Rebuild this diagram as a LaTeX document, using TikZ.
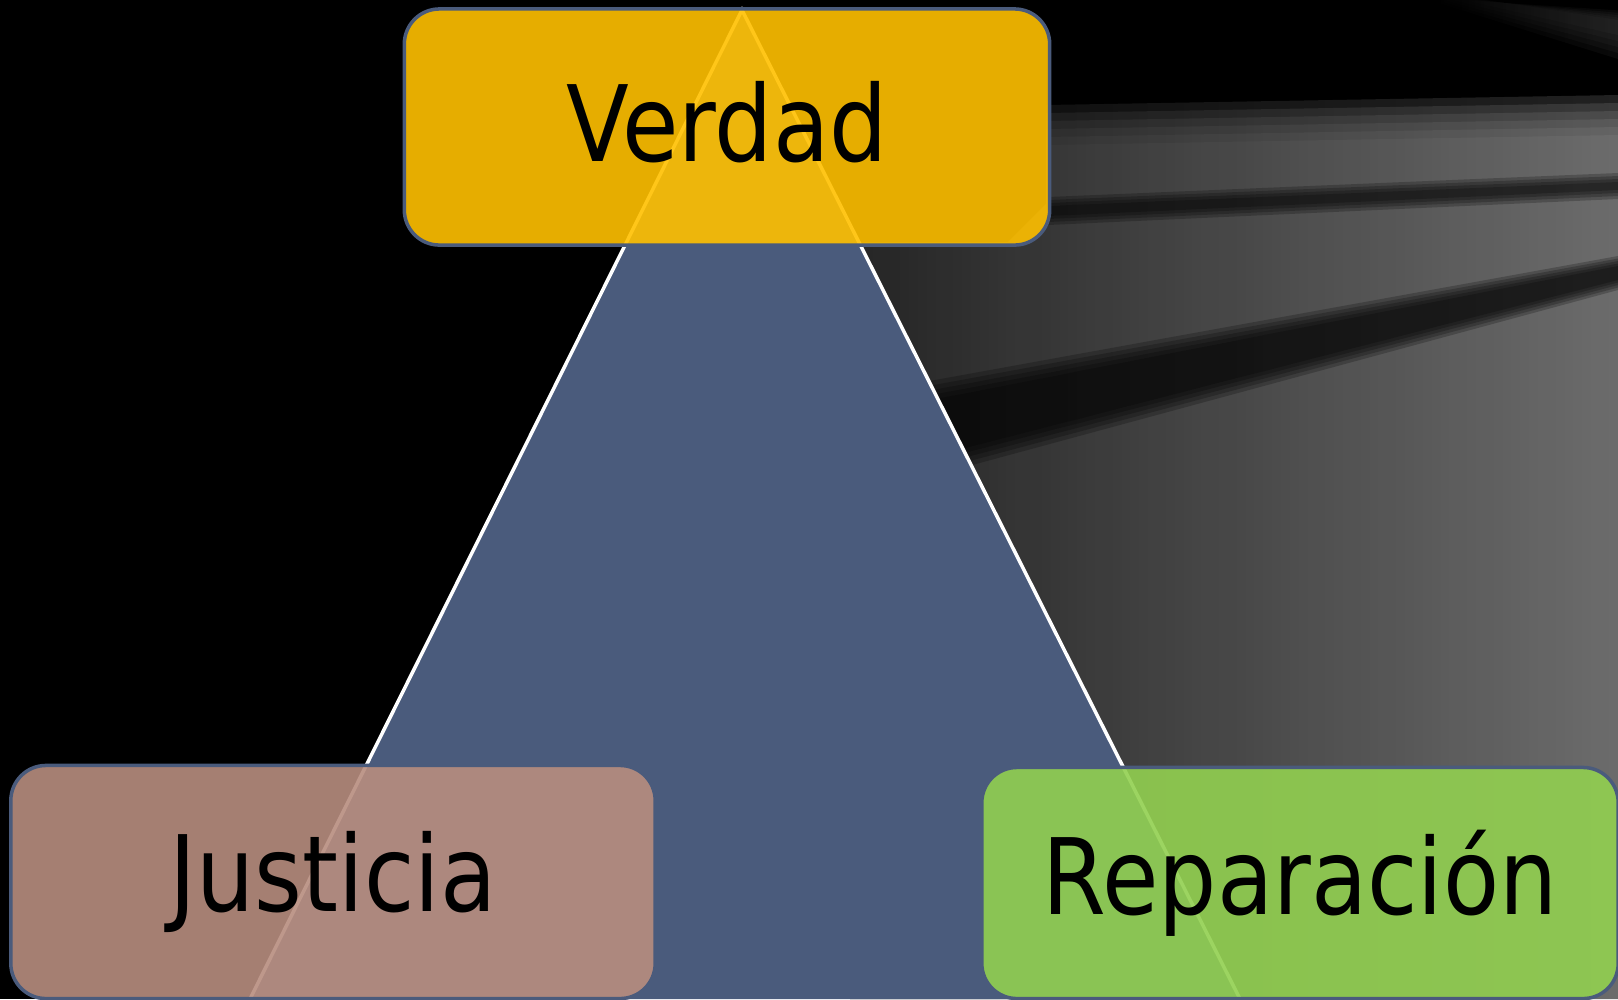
\documentclass[tikz,border=0pt]{standalone}
\usepackage{fontspec}
\newfontfamily\boxfont[FakeStretch=0.87]{DejaVu Sans}
\definecolor{slate}{RGB}{74,91,124}
\definecolor{gold}{RGB}{255,192,0}
\definecolor{rose}{RGB}{184,141,127}
\definecolor{leaf}{RGB}{146,208,80}

\begin{document}
\begin{tikzpicture}[x=0.01cm,y=-0.01cm,
    pillar/.style={draw=slate,line width=1pt,rounded corners=10pt,
      fill opacity=0.9,text opacity=1,inner sep=0pt,
      font=\boxfont\fontsize{30}{36}\selectfont},
    haze/.style={left color=black!82,right color=black!48,opacity=0.25},
    shadow/.style={fill=black,opacity=0.22}]

  % background
  \fill[black] (0,0) rectangle (1618,999);
  \useasboundingbox (0,0) rectangle (1618,999);
  \foreach \d in {0,8,...,40}
    \shade[haze] (1046,{105+\d}) -- (1618,{95+\d}) -- (1618,999) -- (850,999)
      -- (850,242) -- (1008,242) -- (1046,204) -- cycle;
  % dark streaks
  \foreach \d in {0,3,...,9}
    \fill[shadow] (1048,{206-\d}) -- (1618,{182-\d}) -- (1618,{190+\d})
      -- (1048,{216+\d}) -- cycle;
  \foreach \d in {0,5,...,20}
    \fill[shadow] (880,{410-\d}) -- (1618,{266-\d*0.5}) -- (1618,{280+\d*0.5})
      -- (880,{470+\d}) -- cycle;
  \foreach \d in {0,6,...,24}
    \shade[left color=black,right color=black!75,opacity=0.15]
      (1420,{-10+\d*0.3}) -- (1618,{20-\d*0.4}) -- (1618,{35+\d}) -- cycle;

  % triangle
  \coordinate (top) at (742,10);
  \coordinate (bl) at (250,999);
  \coordinate (br) at (1240,999);
  \fill[slate] (bl) -- (top) -- (br) -- cycle;
  \draw[white,line width=1pt] (bl) -- (top) -- (br);

  % boxes
  \node[pillar,fill=gold,minimum width=6.45cm,minimum height=2.36cm]
    (verdad) at (727,127) {\raisebox{3pt}{Verdad}};
  \node[pillar,fill=rose,minimum width=6.44cm,minimum height=2.33cm]
    (justicia) at (333,882) {Justicia};
  \node[pillar,fill=leaf,minimum width=6.36cm,minimum height=2.31cm]
    (reparacion) at (1300,883) {Reparación};

\end{tikzpicture}
\end{document}
